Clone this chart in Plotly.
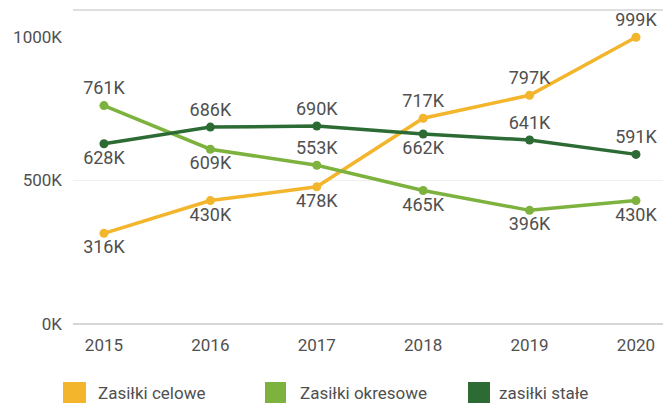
import plotly.graph_objects as go

years = [2015, 2016, 2017, 2018, 2019, 2020]
year_labels = ["2015", "2016", "2017", "2018", "2019", "2020"]
series_names = ["Zasiłki celowe", "Zasiłki okresowe", "zasiłki stałe"]
celowe = [316, 430, 478, 717, 797, 999]
okresowe = [761, 609, 553, 465, 396, 430]
stale = [628, 686, 690, 662, 641, 591]
y_ticks = [0, 500, 1000]
y_tick_labels = ["0K", "500K", "1000K"]

colors = ["#F2B52C", "#7DB23E", "#2C6B34"]
positions = [
    ["bottom center", "bottom center", "bottom center", "top center", "top center", "top center"],
    ["top center", "bottom center", "top center", "bottom center", "bottom center", "bottom center"],
    ["bottom center", "top center", "top center", "bottom center", "top center", "top center"],
]
FONT = "Roboto, Arial, sans-serif"
TXT = "#505050"

fig = go.Figure()
for name, vals, col, pos in zip(series_names, [celowe, okresowe, stale], colors, positions):
    fig.add_trace(go.Scatter(
        x=years, y=vals, name=name, mode="lines+markers+text",
        line=dict(color=col, width=3.5),
        marker=dict(color=col, size=9),
        text=[f"{v}K" for v in vals], textposition=pos,
        textfont=dict(family=FONT, size=18, color=TXT),
        cliponaxis=False, showlegend=False,
    ))

fig.update_layout(
    width=663, height=403,
    margin=dict(l=73, r=0, t=37, b=79),
    paper_bgcolor="white", plot_bgcolor="white",
    font=dict(family=FONT, size=18, color=TXT),
    showlegend=False,
)
fig.update_xaxes(
    range=[2014.709, 2020.254], tickvals=years, ticktext=year_labels,
    showgrid=False, zeroline=False, showline=False, ticks="",
    ticklabelstandoff=9, tickfont=dict(size=17, color=TXT),
)
fig.update_yaxes(
    range=[0, 1000], tickvals=y_ticks, ticktext=y_tick_labels,
    showgrid=True, gridcolor="#f0f0f0", gridwidth=1,
    zeroline=True, zerolinecolor="#d6d6d6", zerolinewidth=2,
    showline=False, ticks="", ticklabelstandoff=10,
    tickfont=dict(size=17, color=TXT),
)

# top border line
fig.add_shape(type="line", xref="paper", yref="paper", x0=0, x1=1,
              y0=(324 - 10) / 287, y1=(324 - 10) / 287,
              line=dict(color="#dedede", width=2))

# manual legend (square swatches)
sq = [(63, 86, 96), (265, 286, 298), (468, 490, 497)]
for (a, b, t), name, col in zip(sq, series_names, colors):
    fig.add_shape(type="rect", xref="paper", yref="paper",
                  x0=(a - 73) / 590, x1=(b - 73) / 590,
                  y0=(324 - 382) / 287, y1=(324 - 406) / 287,
                  fillcolor=col, line=dict(width=0))
    fig.add_annotation(xref="paper", yref="paper", x=(t - 73) / 590, y=(324 - 393) / 287,
                       text=name, showarrow=False, xanchor="left", yanchor="middle",
                       font=dict(family=FONT, size=17, color=TXT))

fig.write_html("out.html", config={"displayModeBar": False},
               post_script="document.body.style.margin='0';document.body.style.overflow='hidden';")
